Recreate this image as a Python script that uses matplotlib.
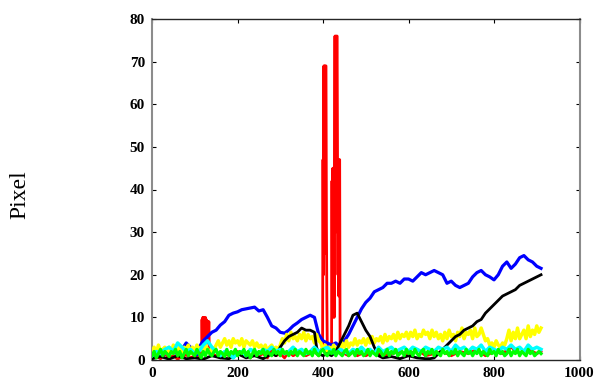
import matplotlib
matplotlib.use("Agg")
import matplotlib.pyplot as plt

# ---------------- data (frame, pixel) ----------------
red_x = [0, 10, 20, 30, 40, 50, 60, 70, 80, 90, 100, 110,
         116, 117, 118, 119, 120, 121, 122, 123, 124, 125, 126, 127, 128, 129, 130, 131, 132, 133, 134,
         140, 150, 160, 170, 180, 190, 200, 210, 220, 230, 240, 250, 260, 270, 280, 290, 300, 310,
         320, 330, 340, 350, 360, 370, 380, 390,
         399, 400, 401, 402, 403, 404, 405, 406, 407, 408, 409, 410, 415,
         420, 421, 422, 423, 424, 425, 426, 427, 428, 429, 430, 431, 432, 433, 434, 435, 436, 437,
         438, 439, 440, 445,
         450, 460, 470, 480, 490, 500, 520, 540, 560, 580, 600, 620, 640, 660, 680, 700, 720, 740,
         760, 780, 800, 820, 840, 860, 880, 900, 910]
red_y = [0.5, 1, 0.3, 1.5, 0.5, 1, 0.2, 0.8, 1.2, 0.5, 1, 0.8,
         2, 9.5, 4, 10, 5, 10, 6, 9.5, 4, 10, 5, 9.5, 6, 9, 4, 9, 5, 9, 2,
         1.5, 1, 0.5, 1.5, 1, 0.5, 2, 1, 1.5, 0.5, 2, 1, 1.5, 0.5, 2.5, 1, 1.5, 0.5,
         2, 1, 1.5, 2, 1, 1.5, 2, 1,
         3, 47, 20, 69, 30, 69, 25, 69, 69, 32, 15, 3, 3,
         3, 42, 10, 45, 15, 42, 10, 45, 76, 30, 76, 35, 76, 76, 47, 20, 47, 15,
         47, 47, 3, 2,
         1.5, 1, 2, 1, 1.5, 1, 2, 1, 1.5, 2, 1, 2.5, 1, 1.5, 2, 1, 2, 1.5,
         2.5, 1, 2, 1.5, 3, 1.5, 2.5, 1.5, 2]

blue_x = [0, 20, 40, 50, 60, 70, 80, 90, 100, 105, 110, 120, 130, 140, 150, 160, 170, 180, 190, 200,
          210, 220, 230, 240, 250, 260, 270, 280, 290, 300, 310, 320, 330, 340, 350, 360, 370, 380,
          390, 400, 410, 420, 430, 440, 450, 460, 470, 480, 490, 500, 510, 520, 530, 540, 550, 560,
          570, 580, 590, 600, 610, 620, 630, 640, 650, 660, 670, 680, 690, 700, 710, 720, 730, 740,
          750, 760, 770, 780, 790, 800, 810, 820, 830, 840, 850, 860, 870, 880, 890, 900, 910]
blue_y = [0.5, 1, 2, 1.8, 1.5, 2.5, 4, 3, 1.5, 1.2, 3, 4.5, 5.5, 6.5, 7, 8.2, 9, 10.5, 11, 11.3,
          11.8, 12, 12.2, 12.4, 11.5, 11.8, 10, 8, 7.5, 6.5, 6.3, 7, 8, 8.7, 9.5, 10, 10.5, 10,
          6, 4.5, 4, 3.5, 4, 3, 4.5, 6, 8, 10, 12, 13.5, 14.5, 16, 16.5, 17, 18, 18,
          18.5, 18, 19, 19, 18.5, 19.5, 20.5, 20, 20.5, 21, 20.5, 20, 18, 18.5, 17.5, 17, 17.5, 18,
          19.5, 20.5, 21, 20, 19.5, 18.8, 20, 22, 23, 21.5, 22.5, 24, 24.5, 23.5, 23, 22, 21.5]

black_x = [0, 20, 40, 60, 80, 100, 120, 140, 160, 180, 200, 220, 240, 260, 280, 290, 300, 310, 320,
           330, 340, 350, 360, 370, 380, 385, 390, 400, 410, 420, 430, 440, 450, 460, 470, 480, 490,
           500, 510, 520, 530, 540, 560, 580, 600, 620, 640, 650, 660, 670, 680, 690, 700, 710, 720,
           730, 740, 750, 760, 770, 780, 790, 800, 810, 820, 830, 840, 850, 860, 870, 880, 890, 900, 910]
black_y = [0.3, 0.8, 0.2, 1, 0.3, 0.5, 0.2, 1, 0.5, 0.3, 1.5, 0.5, 1, 0.3, 1.5, 1, 3, 4.5, 5.5,
           6, 6.5, 7.5, 7, 7, 6.5, 3, 1.5, 1, 1.5, 1, 2, 4, 6, 8, 10.5, 11, 9,
           7, 5.5, 3, 1, 0.5, 0.8, 0.3, 1, 0.5, 0.3, 0.3, 0.5, 1.5, 2.5, 3.5, 4.5, 5.5, 6,
           7, 7.5, 8, 9, 9.5, 11, 12, 13, 14, 15, 15.5, 16, 16.5, 17.5, 18, 18.5, 19, 19.5, 20]

yellow_x = list(range(0, 915, 5))
yellow_y = [2, 3, 1.5, 3.5, 2, 2.5, 3, 1.5, 3, 2, 3.5, 2.5, 2, 3.5, 2, 3, 2.5, 3.5, 1.5, 3,
            2, 3.5, 2.5, 3, 2, 3.5, 2.5, 1.5, 3, 2.5,
            3.5, 4.5, 3, 4, 5, 3.5, 4.5, 3, 5, 4, 4.5, 3.5, 5, 3, 4.5, 4, 3.5, 4.5, 3, 4,
            3, 3.5, 2.5, 3.5, 2, 3, 3.5, 2.5, 3, 2.5,
            3.5, 5, 4, 6, 4.5, 6.5, 5, 5.5, 4.5, 6, 5, 6.5, 4.5, 6, 5, 5.5, 4, 6, 4.5, 4,
            2.5, 3.5, 2, 3, 2.5, 3.5, 2, 3,
            2.5, 4, 3, 4.5, 3, 4, 3.5, 5, 3.5, 4.5, 4, 5, 3.5, 5, 4, 5.5, 4, 5, 4.5, 5.5,
            4, 6, 4.5, 5.5, 5, 6, 4.5, 6.5, 5, 6, 5.5, 6.5,
            5, 6.5, 5.5, 7, 5, 6, 5.5, 7, 6, 6.5, 5, 7, 5.5, 6.5, 5, 6, 4.5, 6.5, 5, 7,
            5.5, 6, 4.5, 6.5, 5.5, 7.5, 5, 6.5, 6, 7, 5, 7.5, 5.5, 6, 7.5, 6,
            4.5, 5, 3.5, 4, 3, 4.5, 3.5, 3, 4, 3.5,
            5, 7, 4.5, 6.5, 5, 7.5, 5, 6, 7, 5, 8, 5.5, 7, 6, 8, 6.5, 7.5]

cyan_x = list(range(0, 920, 10))
cyan_y = [1, 2, 1.5, 2.5, 3, 2, 4, 3, 2, 2.5, 1.5, 2, 3.5, 4.5, 3, 2, 1, 2, 1.5, 0.5,
          1.5, 2, 1, 2.5, 2, 1.5, 2.5, 2, 3, 2, 2.5, 1.5, 2, 3, 2, 2.5, 1.5, 2, 3, 2,
          2.5, 3, 2, 1.5, 2.5, 2, 1.5, 2.5, 2, 3, 2, 2.5, 1.5, 3, 2, 2.5, 3, 2, 2.5, 3,
          2, 3, 2.5, 2, 3, 2.5, 2, 3, 2.5, 3, 2, 3.5, 2.5, 3, 2, 3, 2.5, 3.5, 2, 3,
          2.5, 2, 3, 2.5, 3.5, 2.5, 3, 2, 3.5, 2.5, 3, 2.5]

green_x = list(range(0, 915, 5))
green_y = [1, 2, 0.5, 1.5, 2.5, 1, 2, 1.5, 0.8, 2,
           1.5, 2.5, 1, 2, 0.5, 1.5, 2.5, 1, 2, 1.5,
           1, 2.5, 1.5, 0.5, 2, 1, 2.5, 1.5, 1, 2,
           2.5, 1, 2, 1.5, 0.8, 2.5, 1, 2, 1.5, 2.5,
           1, 2, 1.5, 2.5, 1, 2, 0.5, 1.5, 2.5, 1,
           2, 1.5, 2.5, 1, 2, 1.5, 1, 2.5, 1.5, 2,
           1, 2.5, 1.5, 2, 1, 2, 1.5, 2.5, 1, 2,
           1.5, 1, 2.5, 1.5, 2, 1, 2.5, 1.5, 1, 2,
           2.5, 1.5, 1, 2, 1.5, 2.5, 1, 2, 1.5, 1,
           2, 2.5, 1, 1.5, 2, 1, 2.5, 1.5, 2, 1,
           1.5, 2.5, 1, 2, 1.5, 1, 2.5, 2, 1, 1.5,
           2.5, 1, 2, 1.5, 2.5, 1, 1.5, 2, 1, 2.5,
           1.5, 2, 1, 2.5, 1.5, 1, 2, 2.5, 1, 2,
           1.5, 2.5, 1, 2, 1.5, 1, 2.5, 1.5, 2, 1,
           2, 1.5, 2.5, 1, 2, 1.5, 1, 2.5, 1.5, 2,
           1, 2, 1.5, 2.5, 1, 2, 1.5, 1, 2.5, 1.5,
           2, 1, 2.5, 1.5, 2, 1, 1.5, 2.5, 1, 2,
           1.5, 2.5, 1, 2, 1.5, 1, 2.5, 1.5, 2, 1,
           1.5, 2, 1.5]

x_ticks = [0, 200, 400, 600, 800, 1000]
y_ticks = [0, 10, 20, 30, 40, 50, 60, 70, 80]

# ---------------- figure ----------------
fig = plt.figure(figsize=(5.97, 3.86), dpi=100)
ax = fig.add_axes([152 / 597, 26 / 386, (579.5 - 152) / 597, (360 - 19) / 386])

ax.plot(red_x, red_y, color="#ff0000", lw=2.0, zorder=2)
ax.plot(blue_x, blue_y, color="#0000ff", lw=2.3, zorder=3)
ax.plot(yellow_x, yellow_y, color="#ffff00", lw=2.5, zorder=4)
ax.plot(black_x, black_y, color="#000000", lw=2.0, zorder=5)
ax.plot(cyan_x, cyan_y, color="#00ffff", lw=2.5, zorder=6)
ax.plot(green_x, green_y, color="#00ff00", lw=2.3, zorder=7)

ax.set_xlim(0, 1000)
ax.set_ylim(0, 80)
ax.set_xticks(x_ticks)
ax.set_yticks(y_ticks)

font_ticks = dict(family=["Liberation Serif", "DejaVu Serif"], weight="bold", size=11)
ax.set_xticklabels([str(v) for v in x_ticks], fontdict=font_ticks)
ax.set_yticklabels([str(v) for v in y_ticks], fontdict=font_ticks)

ax.tick_params(direction="in", length=3, width=0.8, top=True, right=True, pad=5)

for side in ["left", "right"]:
    ax.spines[side].set_color("#8c8c8c")
    ax.spines[side].set_linewidth(1.5)
for side in ["top", "bottom"]:
    ax.spines[side].set_color("#262626")
    ax.spines[side].set_linewidth(1.0)

fig.text(20 / 597, 1 - 195 / 386, "Pixel", rotation=90, ha="center", va="center",
         family=["Liberation Serif", "DejaVu Serif"], size=17)

fig.savefig("out.png", dpi=100, facecolor="white")
